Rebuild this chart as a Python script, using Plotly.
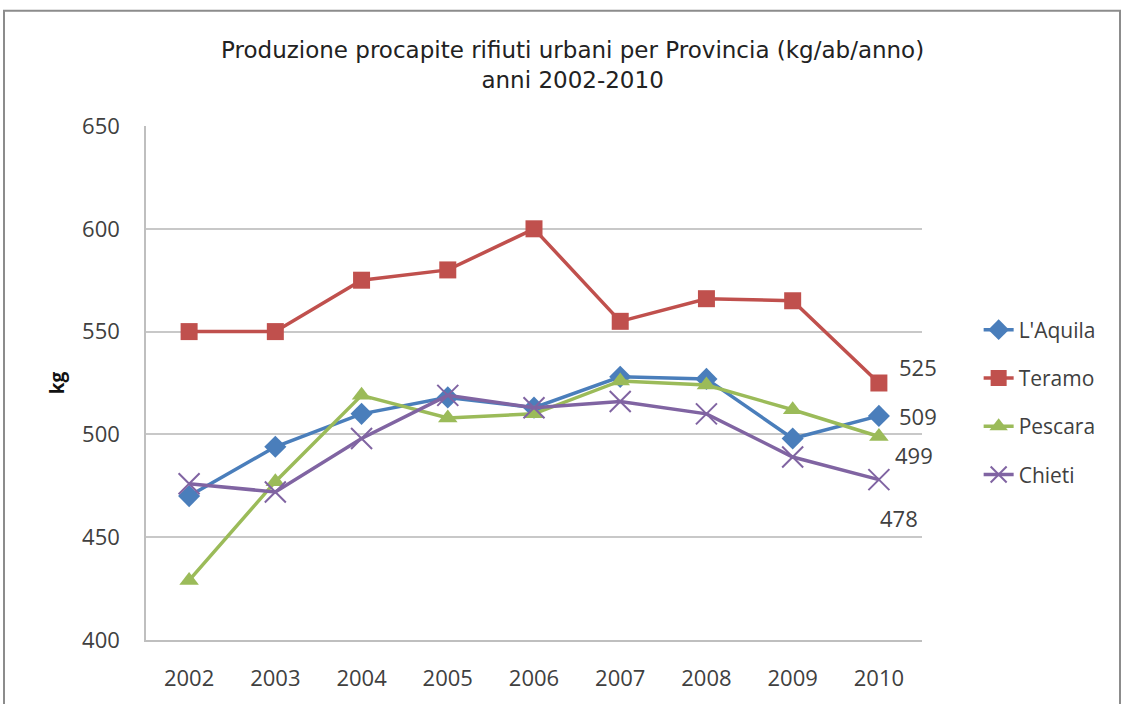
import plotly.graph_objects as go

years = ["2002", "2003", "2004", "2005", "2006", "2007", "2008", "2009", "2010"]
laquila = [470, 494, 510, 518, 513, 528, 527, 498, 509]
teramo = [550, 550, 575, 580, 600, 555, 566, 565, 525]
pescara = [429, 477, 519, 508, 510, 526, 524, 512, 499]
chieti = [476, 472, 498, 519, 513, 516, 510, 489, 478]

series = [
    ("L'Aquila", laquila, "#4A7EBB", "diamond", 17),
    ("Teramo", teramo, "#C0504D", "square", 17),
    ("Pescara", pescara, "#9BBB59", "triangle-up", 17),
    ("Chieti", chieti, "#8064A2", "x-thin", 21),
]

# label offsets for last-point data labels (pixels)
label_shift = {"L'Aquila": (39, 0), "Teramo": (39, 16), "Pescara": (35, -19), "Chieti": (20, -38)}

TICKFONT = dict(family="Open Sans", size=22, color="#404040")

fig = go.Figure()
last = len(years) - 1
for name, vals, color, sym, size in series:
    marker = dict(symbol=sym, size=size, color=color)
    if sym == "x-thin":
        marker["line"] = dict(color=color, width=2)
    fig.add_trace(go.Scatter(
        x=years, y=vals, name=name, mode="lines+markers",
        line=dict(color=color, width=3.5), marker=marker, legendgroup=name,
    ))
    dx, dy = label_shift[name]
    fig.add_annotation(x=last, y=vals[last], xref="x", yref="y", text=str(vals[last]), showarrow=False,
                       xshift=dx, yshift=dy, font=TICKFONT)

W, H = 1125, 704
L, R, T, B = 146, 203, 126, 61
pw, ph = W - L - R, H - T - B

fig.update_layout(
    width=W, height=H,
    margin=dict(l=L, r=R, t=T, b=B),
    paper_bgcolor="white", plot_bgcolor="white",
    title=dict(text="Produzione procapite rifiuti urbani per Provincia (kg/ab/anno)<br>anni 2002-2010",
               x=0.509, xanchor="center", y=0.918, yanchor="top",
               font=dict(family="DejaVu Sans", size=23, color="#222222")),
    xaxis=dict(type="category", range=[-0.5, 8.5], showgrid=False, showline=True,
               linecolor="#BFBFBF", linewidth=1.5, ticks="outside", ticklen=18,
               tickcolor="rgba(0,0,0,0)", tickfont=TICKFONT),
    yaxis=dict(range=[400, 650], dtick=50, showgrid=True, gridcolor="#C8C8C8", gridwidth=1.5,
               showline=True, linecolor="#BFBFBF", linewidth=1.5, zeroline=False,
               ticks="outside", ticklen=20, tickcolor="rgba(0,0,0,0)",
               tickfont=TICKFONT,
               title=dict(text="<b>kg</b>", font=dict(family="Open Sans", size=19, color="#111111"), standoff=12)),
    legend=dict(x=1.073, xanchor="left", y=0.462, yanchor="middle", tracegroupgap=18,
                font=dict(family="Open Sans", size=21, color="#404040"), bgcolor="rgba(0,0,0,0)"),
    showlegend=True,
)

# chart frame
fig.add_shape(type="rect", xref="paper", yref="paper",
              x0=(4 - L) / pw, x1=(1120 - L) / pw, y0=-(B + 20) / ph,
              y1=1 + (T - 10) / ph, line=dict(color="#8C8C8C", width=2), layer="below")

fig.write_html("out.html")
